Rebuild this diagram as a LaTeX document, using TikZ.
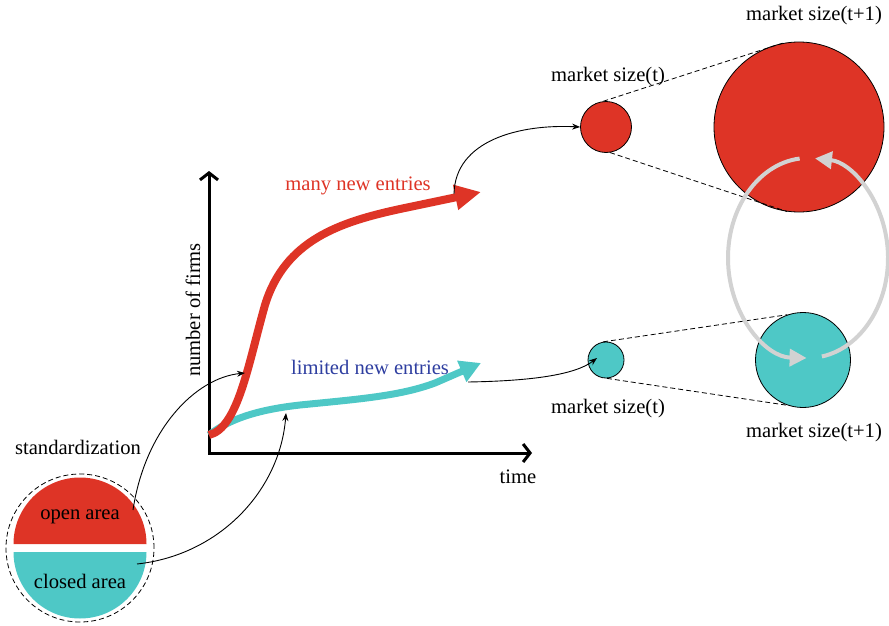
\documentclass[tikz,border=0pt]{standalone}
\usepackage{fontspec}
\setmainfont{Liberation Serif}[Ligatures=NoCommon]
\usetikzlibrary{arrows.meta}
\definecolor{mred}{RGB}{222,52,38}
\definecolor{mcyan}{RGB}{78,200,198}
\definecolor{mblue}{RGB}{46,62,160}
\definecolor{mgray}{RGB}{210,210,210}
\begin{document}
\begin{tikzpicture}[x=1pt,y=-1pt,
  font=\fontsize{20.6}{24}\selectfont,
  disc/.style={circle, draw=black, line width=0.8pt, inner sep=0pt},
  conn/.style={draw=black, line width=0.9pt, -{Stealth[length=8pt,width=6pt]}},
  tang/.style={line width=0.8pt, dash pattern=on 5pt off 3pt},
  axisline/.style={line width=3pt, {Straight Barb[length=7pt,width=18pt]}-{Straight Barb[length=7pt,width=18pt]}},
  redflow/.style={mred, line width=8pt, -{Triangle[length=26pt,width=24pt]}},
  cyanflow/.style={mcyan, line width=7pt, -{Triangle[length=21pt,width=22pt]}},
  graycycle/.style={mgray, line width=4pt, -{Triangle[length=17pt,width=17pt]}},
  lbl/.style={inner sep=1pt}]
\useasboundingbox (0,0) rectangle (889,626);

% standardization disc
\fill[mred] (13.5,544) arc (180:360:66.5) -- cycle;
\fill[mcyan] (13.5,552) arc (180:0:66.5) -- cycle;
\node[circle, draw=black, line width=0.8pt, dash pattern=on 5pt off 3pt, minimum size=148pt, inner sep=0pt] (std) at (80,548) {};
\node[lbl] (stdl) at (78,447) {standardization};
\node[lbl] (open) at (80,517) {open area};
\node[lbl] (closed) at (80,581) {closed area};
\coordinate (oa) at (133,510);
\coordinate (ca) at (137,564);

% axes
\coordinate (ytop) at (209,171);
\coordinate (org) at (209,453);
\coordinate (xend) at (532,453);
\draw[axisline] (ytop) -- (org) -- (xend);
\node[lbl, rotate=90] (ylab) at (193,310) {number of firms};
\node[lbl] (xlab) at (518,477) {time};

% growth curves
\draw[cyanflow] (209,435) .. controls (228,420) and (255,410) .. (300,405)
  .. controls (360,399) and (400,396) .. (435,383) -- (481,363);
\draw[redflow] (209,435) .. controls (238,428) and (248,365) .. (265,305)
  .. controls (285,240) and (340,222) .. (400,209) -- (481,192);
\node[lbl, text=mred] (many) at (358,186) {many new entries};
\node[lbl, text=mblue] (lim) at (370,367) {limited new entries};
\coordinate (onr) at (245,373);
\coordinate (onc) at (286,413);
\coordinate (rs) at (454,194);
\coordinate (cs) at (468,382);

% market circles
\node[disc, fill=mred, minimum size=51pt] (sr) at (606,127) {};
\node[disc, fill=mred, minimum size=170pt] (br) at (799,127) {};
\node[disc, fill=mcyan, minimum size=36pt] (sc) at (606,360) {};
\node[disc, fill=mcyan, minimum size=95pt] (bc) at (803,360) {};
\coordinate (sci) at (597,358);

\draw[tang] (sr.96) -- (br.101);
\draw[tang] (sr.-81) -- (br.-98);
\draw[tang] (sc.99) -- (bc.109);
\draw[tang] (sc.-87) -- (bc.-109);

\node[lbl] (mt1) at (608,77) {market size(t)};
\node[lbl] (mt2) at (814,16) {market size(t+1)};
\node[lbl] (mt3) at (608,409) {market size(t)};
\node[lbl] (mt4) at (814,433) {market size(t+1)};

% connectors
\draw[conn] (oa) .. controls (145,430) and (195,378) .. (onr);
\draw[conn] (ca) .. controls (220,555) and (280,490) .. (onc);
\draw[conn] (rs) .. controls (455,140) and (520,124) .. (sr.west);
\draw[conn] (cs) .. controls (530,381) and (575,375) .. (sci);

% cycle
\coordinate (cyc) at (808,258);
\draw[graycycle] (cyc) ++(264:80 and 100) arc (264:91:80 and 100);
\draw[graycycle] (cyc) ++(80:80 and 100) arc (80:-85:80 and 100);
\end{tikzpicture}
\end{document}
